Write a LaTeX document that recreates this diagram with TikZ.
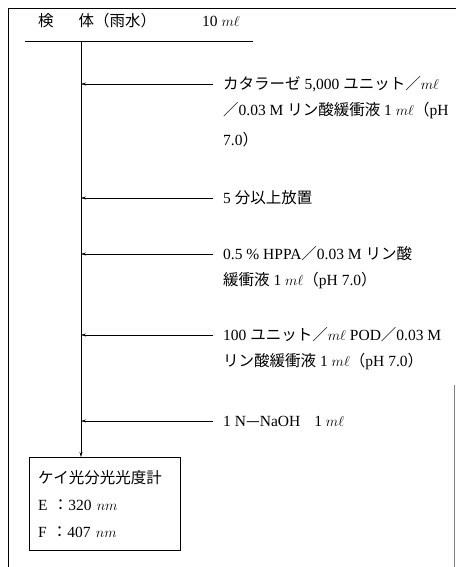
\documentclass[tikz,border=0pt]{standalone}
\usepackage{fontspec}
\setmainfont{Liberation Serif}
\newfontfamily\jp{Noto Sans CJK JP}
\usetikzlibrary{arrows.meta}
\newcommand{\mlu}{$m\ell$}
\newcommand{\nmu}{$nm$}

\begin{document}
\begin{tikzpicture}[ x=1pt, y=-1pt, >={Stealth[length=5pt,width=3pt]},
    every node/.style={font=\fontsize{15.5}{18}\selectfont, inner sep=0pt},
    step text/.style={anchor=west} ]

    \useasboundingbox (0,0) rectangle (456,567);

% 枠

    \draw (8,567) -- (8,8) -- (456,8);
    \draw[gray, very thin] (454,385) -- (454,567);

% 検体

    \node[anchor=west] (sample) at (38,21) {{\jp 検}\hspace{25pt}{\jp 体（雨水）}\hspace{46pt}10 \mlu};
    \draw (25,41) -- (253,41);
    \coordinate (top) at (81,41);

% 試薬

    \node[step text] (cat1) at (223,84)  {{\jp カタラーゼ} 5,000 {\jp ユニット／}\mlu};
    \node[step text] (cat2) at (223,111) {{\jp ／}0.03 M {\jp リン酸緩衝液} 1 \mlu{\jp（}pH};
    \node[step text] (cat3) at (223,140) {7.0{\jp ）}};

    \node[step text] (wait) at (223,198) {5 {\jp 分以上放置}};

    \node[step text] (hppa1) at (223,254) {0.5 \% HPPA{\jp ／}0.03 M {\jp リン酸}};
    \node[step text] (hppa2) at (223,281) {{\jp 緩衝液} 1 \mlu{\jp（}pH 7.0{\jp ）}};

    \node[step text] (pod1) at (223,335) {100 {\jp ユニット／}\mlu\ POD{\jp ／}0.03 M};
    \node[step text] (pod2) at (223,362) {{\jp リン酸緩衝液} 1 \mlu{\jp（}pH 7.0{\jp ）}};

    \node[step text] (naoh) at (223,421) {1 N{\jp —}NaOH\hspace{14pt}1 \mlu};

% 測定

    \node[draw, anchor=north west, text width=133pt, inner xsep=9pt, align=left,
          minimum height=93pt, font=\fontsize{15.5}{27}\selectfont] (meter) at (29,457)
          {{\jp ケイ光分光光度計}\\E {\jp ：}320 \nmu\\F {\jp ：}407 \nmu};

% 矢印

    \foreach \s in {cat1, wait, hppa1, pod1, naoh}
        \draw[->] ([xshift=-10pt]\s.west) -- (top |- \s.west);
    \draw[->] (top) -- (top |- meter.north);

\end{tikzpicture}
\end{document}
